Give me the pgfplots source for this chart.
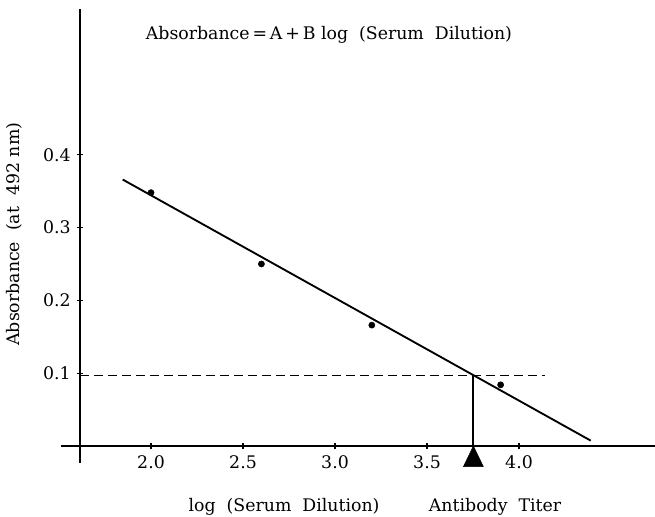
\documentclass[border=0pt]{standalone}
\usepackage{fontspec}
\setmainfont{DejaVu Serif}
\usepackage{pgfplots}
\pgfplotsset{compat=1.18}
\begin{document}
\fontsize{13}{15}\selectfont
\begin{tikzpicture}
\begin{axis}[
  x=138pt, y=546pt,
  xmin=1.614, xmax=4.739,
  ymin=0, ymax=0.600,
  axis lines=left,
  axis line style={-, line width=1.4pt},
  x axis line style={shorten <=-14.3pt},
  y axis line style={shorten <=-12.75pt},
  xtick={2,2.5,3,3.5,4},
  ytick={0.1,0.2,0.3,0.4},
  tick align=center,
  major tick length=5pt,
  tick style={line width=0.9pt, black},
  /pgf/number format/assume math mode=true,
  xticklabel style={/pgf/number format/.cd, fixed, fixed zerofill, precision=1},
  yticklabel style={/pgf/number format/.cd, fixed, fixed zerofill, precision=1},
  clip=false,
]
% fitted line
\addplot[line width=1.4pt, no marks] coordinates {(1.846,0.366) (4.390,0.0073)};
% measured points
\addplot[only marks, mark=*, mark size=2.3pt] coordinates {
  (2.0,0.348) (2.6,0.250) (3.2,0.166) (3.9,0.084)
};
% cut-off level
\addplot[line width=0.9pt, dash pattern=on 7pt off 3.5pt, no marks] coordinates {(1.614,0.0968) (4.141,0.0968)};
% titer drop line and marker
\addplot[line width=1.4pt, no marks] coordinates {(3.752,0.0962) (3.752,0)};
\addplot[fill=black, draw=black, no marks] coordinates {(3.698,-0.0284) (3.752,0) (3.806,-0.0284)} -- cycle;

\node at (axis cs:2.967,0.5646) {Absorbance\,=\,A\,+\,B log\ \ (Serum\ \ Dilution)};
\node[rotate=90] at (axis cs:1.255,0.291) {Absorbance\ \ (at\ \ 492\ nm)};
\node at (axis cs:2.723,-0.0838) {log\ \ (Serum\ \ Dilution)};
\node at (axis cs:3.870,-0.0838) {Antibody\ \ Titer};

\coordinate (bl) at (axis cs:1.1793,-0.0962);
\coordinate (tr) at (axis cs:4.739,0.6126);
\end{axis}
\pgfresetboundingbox
\useasboundingbox (bl) rectangle (tr);
\end{tikzpicture}
\end{document}
